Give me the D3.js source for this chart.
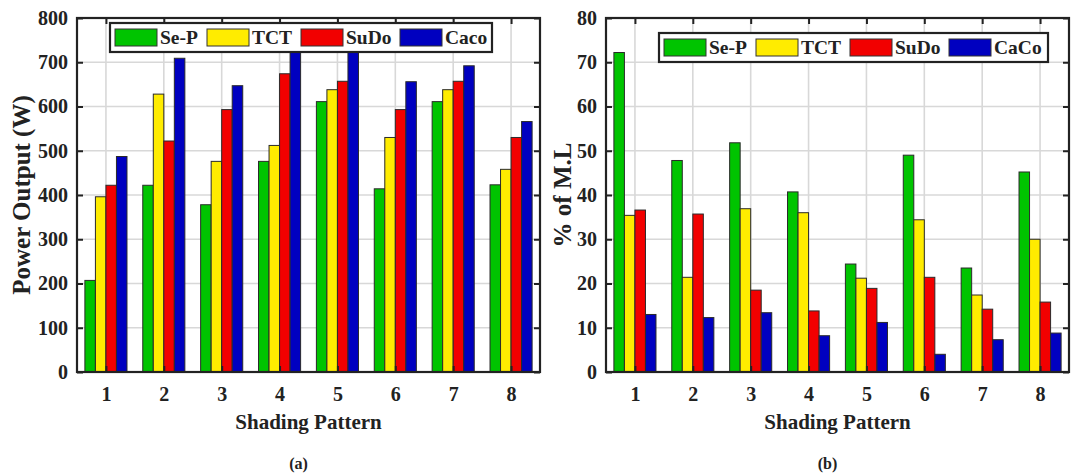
<!DOCTYPE html>
<html>
<head>
<meta charset="utf-8">
<script src="https://cdn.jsdelivr.net/npm/d3@7"></script>
<style>
  html, body { margin: 0; padding: 0; background: #fff; }
  svg text { font-family: "Liberation Serif", "Times New Roman", serif; font-weight: bold; fill: #222; }
</style>
</head>
<body>
<svg id="fig" width="1077" height="476"></svg>
<script>
// Shading patterns on the x axis
const patterns = [1, 2, 3, 4, 5, 6, 7, 8];
const xTickLabels = ["1", "2", "3", "4", "5", "6", "7", "8"];

// (a) power output per configuration, W
const seriesNamesA = ["Se-P", "TCT", "SuDo", "Caco"];
const powerSeP  = [207, 422, 378, 476, 611, 414, 611, 423];
const powerTCT  = [396, 628, 476, 512, 638, 530, 638, 458];
const powerSuDo = [422, 522, 593, 674, 657, 593, 657, 530];
const powerCaco = [487, 709, 647, 740, 740, 656, 692, 566];
const powerTicks = [0, 100, 200, 300, 400, 500, 600, 700, 800];

// (b) percentage of mismatch loss
const seriesNamesB = ["Se-P", "TCT", "SuDo", "CaCo"];
const mlSeP  = [72.2, 47.8, 51.8, 40.7, 24.4, 49.0, 23.5, 45.2];
const mlTCT  = [35.4, 21.4, 36.9, 36.0, 21.2, 34.4, 17.4, 30.0];
const mlSuDo = [36.6, 35.7, 18.5, 13.8, 18.9, 21.4, 14.2, 15.8];
const mlCaCo = [13.0, 12.3, 13.4, 8.2, 11.2, 4.0, 7.3, 8.8];
const mlTicks = [0, 10, 20, 30, 40, 50, 60, 70, 80];

const colors = ["#00c400", "#ffec00", "#f20000", "#0000c0"];

const svg = d3.select("#fig");

function drawPanel(opts) {
  const { left, right, top, bottom, yMax, yTicks, series, names, yTitle, yTitleX,
          tag, legendBox } = opts;
  const g = svg.append("g");

  const x = d3.scaleLinear().domain([0.5, patterns.length + 0.5]).range([left, right]);
  const y = d3.scaleLinear().domain([0, yMax]).range([bottom, top]);

  // grid
  g.append("g").selectAll("line").data(yTicks.slice(1, -1)).join("line")
    .attr("x1", left).attr("x2", right)
    .attr("y1", d => y(d)).attr("y2", d => y(d))
    .attr("stroke", "#d8d8d8").attr("stroke-width", 1.6);
  g.append("g").selectAll("line").data(patterns).join("line")
    .attr("x1", d => x(d)).attr("x2", d => x(d))
    .attr("y1", top).attr("y2", bottom)
    .attr("stroke", "#d8d8d8").attr("stroke-width", 1.6);

  // grouped bars: group occupies 4/5.5 of a category step
  const step = x(2) - x(1);
  const groupW = step * (4 / 5.5);
  const barW = groupW / series.length;
  series.forEach((vals, si) => {
    g.append("g").selectAll("rect").data(vals).join("rect")
      .attr("x", (d, i) => x(patterns[i]) - groupW / 2 + si * barW)
      .attr("y", d => y(Math.min(d, yMax)))
      .attr("width", barW)
      .attr("height", d => bottom - y(Math.min(d, yMax)))
      .attr("fill", colors[si])
      .attr("stroke", "#2a2a2a")
      .attr("stroke-width", 1);
  });

  // axes with inward ticks on all four sides
  const tickLen = 6;
  const axisL = d3.axisLeft(y).tickValues(yTicks).tickSize(-tickLen).tickPadding(9).tickFormat(d3.format("d"));
  const axisR = d3.axisRight(y).tickValues(yTicks).tickSize(-tickLen).tickFormat("");
  const axisB = d3.axisBottom(x).tickValues(patterns).tickSize(-tickLen).tickPadding(15)
                  .tickFormat((d, i) => xTickLabels[i]);
  const axisT = d3.axisTop(x).tickValues(patterns).tickSize(-tickLen).tickFormat("");

  const styleAxis = sel => {
    sel.select(".domain").remove();
    sel.selectAll(".tick line").attr("stroke", "#222").attr("stroke-width", 2);
    sel.selectAll("text").attr("font-size", 20).attr("fill", "#222");
  };
  g.append("g").attr("transform", `translate(${left},0)`).call(axisL).call(styleAxis);
  g.append("g").attr("transform", `translate(${right},0)`).call(axisR).call(styleAxis);
  g.append("g").attr("transform", `translate(0,${bottom})`).call(axisB).call(styleAxis);
  g.append("g").attr("transform", `translate(0,${top})`).call(axisT).call(styleAxis);

  // box
  g.append("rect").attr("x", left).attr("y", top)
    .attr("width", right - left).attr("height", bottom - top)
    .attr("fill", "none").attr("stroke", "#222").attr("stroke-width", 2.2);

  // titles
  g.append("text").attr("x", (left + right) / 2).attr("y", bottom + 57)
    .attr("text-anchor", "middle").attr("font-size", 21).text("Shading Pattern");
  g.append("text")
    .attr("transform", `translate(${yTitleX},${(top + bottom) / 2}) rotate(-90)`)
    .attr("text-anchor", "middle").attr("font-size", 25).text(yTitle);
  g.append("text").attr("x", (left + right) / 2 - 10).attr("y", 469)
    .attr("text-anchor", "middle").attr("font-size", 16).text(tag);

  // legend
  const lg = g.append("g");
  lg.append("rect").attr("x", legendBox.x).attr("y", legendBox.y)
    .attr("width", legendBox.w).attr("height", legendBox.h)
    .attr("fill", "#fff").attr("stroke", "#222").attr("stroke-width", 2.2);
  names.forEach((n, i) => {
    const sx = legendBox.x + 5 + legendBox.itemX[i];
    lg.append("rect").attr("x", sx).attr("y", legendBox.y + 6)
      .attr("width", 42).attr("height", 17)
      .attr("fill", colors[i]).attr("stroke", "#333").attr("stroke-width", 1);
    lg.append("text").attr("x", sx + 45).attr("y", legendBox.y + 21)
      .attr("font-size", 19.5).text(n);
  });
}

drawPanel({
  left: 77, right: 540, top: 18, bottom: 372,
  yMax: 800, yTicks: powerTicks,
  series: [powerSeP, powerTCT, powerSuDo, powerCaco],
  names: seriesNamesA,
  yTitle: "Power Output (W)", yTitleX: 30, tag: "(a)",
  legendBox: { x: 110, y: 23, w: 382, h: 29, itemX: [0, 92, 186, 285] }
});

drawPanel({
  left: 606, right: 1069, top: 18, bottom: 372,
  yMax: 80, yTicks: mlTicks,
  series: [mlSeP, mlTCT, mlSuDo, mlCaCo],
  names: seriesNamesB,
  yTitle: "% of M.L", yTitleX: 571, tag: "(b)",
  legendBox: { x: 659, y: 33, w: 389, h: 29, itemX: [0, 92, 186, 285] }
});
</script>
</body>
</html>
